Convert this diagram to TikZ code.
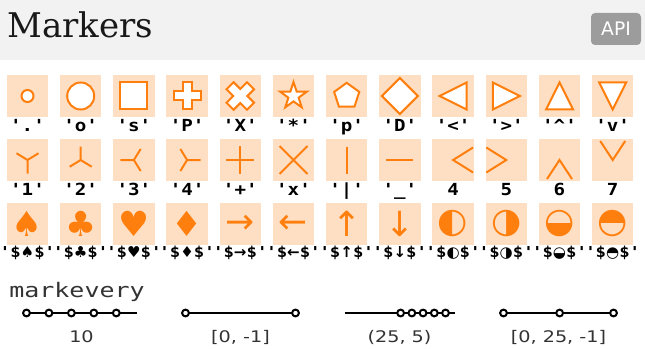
\documentclass[tikz,border=0pt]{standalone}
\usepackage{fontspec}
\usepackage{xcolor}
\usepackage{tikz}
\usetikzlibrary{calc}

\newfontfamily\titlefont{DejaVu Serif}
\newfontfamily\labfont[FakeStretch=1.15]{DejaVu Sans Mono}
\newfontfamily\symf{DejaVu Sans}
\newfontfamily\valfont[FakeStretch=1.2]{DejaVu Sans}
\newfontfamily\evfont[FakeStretch=1.25]{DejaVu Sans Mono}

\definecolor{mkorange}{HTML}{FF7F0E}
\definecolor{mkpeach}{HTML}{FFDFC3}
\definecolor{hdrgray}{HTML}{F2F2F2}
\definecolor{badgegray}{HTML}{9C9C9C}
\definecolor{txtgray}{HTML}{333333}

\begin{document}
\begin{tikzpicture}[
    x=0.75pt, y=-0.75pt,
    mbg/.style={rectangle, fill=mkpeach, minimum size=31.1pt, inner sep=0pt},
    mk/.style={draw=mkorange, line width=1.5pt, fill=white},
    mkl/.style={draw=mkorange, line width=1.5pt},
    lab/.style={font=\labfont\bfseries\fontsize{12.5pt}{14pt}\selectfont, text height=9pt, text depth=2.5pt, inner sep=0pt},
    lab3/.style={lab, font=\labfont\bfseries\fontsize{11.3pt}{13pt}\selectfont},
    gl/.style={text=mkorange, font=\symf\fontsize{26pt}{28pt}\selectfont, inner sep=0pt},
    api/.style={fill=badgegray, rounded corners=3pt, text=white, font=\symf\fontsize{14pt}{15pt}\selectfont, minimum width=37.5pt, minimum height=24pt, inner sep=0pt},
    evline/.style={line width=1.5pt, black},
    evdot/.style={draw=black, line width=1.5pt, fill=white},
    evlab/.style={text=txtgray, font=\valfont\fontsize{12pt}{13pt}\selectfont}
]
\useasboundingbox (0,0) rectangle (645,349);
\fill[white] (0,0) rectangle (645,349);

% Header
\fill[hdrgray] (0,0) rectangle (645,60);
\node[anchor=base west, text=black!90, font=\titlefont\fontsize{25.5pt}{27pt}\selectfont, inner sep=0pt] (title) at (7,38) {Markers};
\node[api] (api) at (616,29) {API};

% Background squares
\foreach \r/\y in {0/96,1/160,2/224}
  \foreach \c in {0,...,11}
    \node[mbg] (b\r-\c) at ({27.5+53.2*\c},\y) {};

% Labels under the squares
\foreach \c/\t in {0/{'.'},1/{'o'},2/{'s'},3/{'P'},4/{'X'},5/{'*'},6/{'p'},7/{'D'},8/{'<'},9/{'>'},10/{'\char"5E'},11/{'v'}}
  \node[lab] (l0-\c) at ($(b0-\c)+(0,31)$) {\t};
\foreach \c/\t in {0/{'1'},1/{'2'},2/{'3'},3/{'4'},4/{'+'},5/{'x'},6/{'|'},7/{'\_'},8/4,9/5,10/6,11/7}
  \node[lab] (l1-\c) at ($(b1-\c)+(0,31)$) {\t};
\foreach \c/\g in {0/♠,1/♣,2/♥,3/♦,4/→,5/←,6/↑,7/↓,8/◐,9/◑,10/◒,11/◓}
  \node[lab3] (l2-\c) at ($(b2-\c)+(0,29.5)$) {'\$\mbox{\symf\bfseries\g}\$'};

% Row 1: filled markers
\draw[mk] (b0-0) circle[radius=6];
\draw[mk] (b0-1) circle[radius=13.5];
\draw[mk] ($(b0-2)+(-13.5,-13.5)$) rectangle ++(27,27);
\draw[mk] (b0-3) ++(-4.5,-13.5) -- ++(9,0) -- ++(0,9) -- ++(9,0) -- ++(0,9) -- ++(-9,0)
  -- ++(0,9) -- ++(-9,0) -- ++(0,-9) -- ++(-9,0) -- ++(0,-9) -- ++(9,0) -- cycle;
\draw[mk, shift={(b0-4)}, rotate=45] (-5,-14.5) -- (5,-14.5) -- (5,-5) -- (14.5,-5) -- (14.5,5) -- (5,5)
  -- (5,14.5) -- (-5,14.5) -- (-5,5) -- (-14.5,5) -- (-14.5,-5) -- (-5,-5) -- cycle;
\draw[mk, shift={(b0-5)}] (-90:14) \foreach \k in {0,...,4} {-- (-54+72*\k:5.4) -- (-18+72*\k:14)} -- cycle;
\draw[mk, shift={(b0-6)}] (-90:13.2) -- (-18:13.2) -- (54:13.2) -- (126:13.2) -- (198:13.2) -- cycle;
\draw[mk, shift={(b0-7)}] (0,-18) -- (18,0) -- (0,18) -- (-18,0) -- cycle;
\draw[mk, shift={(b0-8)}] (-13.5,0) -- (13.5,-13.5) -- (13.5,13.5) -- cycle;
\draw[mk, shift={(b0-9)}] (13.5,0) -- (-13.5,-13.5) -- (-13.5,13.5) -- cycle;
\draw[mk, shift={(b0-10)}] (0,-13.5) -- (13.5,13.5) -- (-13.5,13.5) -- cycle;
\draw[mk, shift={(b0-11)}] (0,13.5) -- (13.5,-13.5) -- (-13.5,-13.5) -- cycle;

% Row 2: line markers
\draw[mkl, shift={(b1-0)}] (0,0) -- (0,13.5) (0,0) -- (-11,-6.75) (0,0) -- (11,-6.75);
\draw[mkl, shift={(b1-1)}] (0,0) -- (0,-13.5) (0,0) -- (-11,6.75) (0,0) -- (11,6.75);
\draw[mkl, shift={(b1-2)}] (0,0) -- (-13.5,0) (0,0) -- (6.75,-11) (0,0) -- (6.75,11);
\draw[mkl, shift={(b1-3)}] (0,0) -- (13.5,0) (0,0) -- (-6.75,-11) (0,0) -- (-6.75,11);
\draw[mkl, shift={(b1-4)}] (-14,0) -- (14,0) (0,-14) -- (0,14);
\draw[mkl, shift={(b1-5)}] (-14,-14) -- (14,14) (-14,14) -- (14,-14);
\draw[mkl, shift={(b1-6)}] (0,-13.5) -- (0,13.5);
\draw[mkl, shift={(b1-7)}] (-13.5,0) -- (13.5,0);
\draw[mkl, shift={(b1-8)}] (20,-12.5) -- (0,0) -- (20,12.5);
\draw[mkl, shift={(b1-9)}] (-20,-12.5) -- (0,0) -- (-20,12.5);
\draw[mkl, shift={(b1-10)}] (-12.5,19) -- (0,0) -- (12.5,19);
\draw[mkl, shift={(b1-11)}] (-12.5,-19) -- (0,0) -- (12.5,-19);

% Row 3: glyph markers
\foreach \c/\g in {0/♠,1/♣,2/♥,3/♦,4/→,5/←,6/↑,7/↓,8/◐,9/◑,10/◒,11/◓}
  \node[gl] (g\c) at (b2-\c) {\g};

% markevery
\node[anchor=base west, text=txtgray, font=\evfont\fontsize{15pt}{16pt}\selectfont, inner sep=0pt] (mev) at (9,297) {markevery};

\coordinate (s1) at (26.5,313);  \coordinate (e1) at (136.5,313);
\coordinate (s2) at (185.5,313); \coordinate (e2) at (295.5,313);
\coordinate (s3) at (344.5,313); \coordinate (e3) at (454.5,313);
\coordinate (s4) at (503.5,313); \coordinate (e4) at (613.5,313);

\draw[evline] (s1) -- (e1);
\draw[evline] (s2) -- (e2);
\draw[evline] (s3) -- (e3);
\draw[evline] (s4) -- (e4);

\foreach \k in {0,10,20,30,40}
  \draw[evdot] ($(s1)!\k/49!(e1)$) circle[radius=3.4];
\foreach \k in {0,49}
  \draw[evdot] ($(s2)!\k/49!(e2)$) circle[radius=3.4];
\foreach \k in {25,30,35,40,45}
  \draw[evdot] ($(s3)!\k/49!(e3)$) circle[radius=3.4];
\foreach \k in {0,25,49}
  \draw[evdot] ($(s4)!\k/49!(e4)$) circle[radius=3.4];

\node[evlab] (v1) at ($(s1)!0.5!(e1)+(0,24)$) {10};
\node[evlab] (v2) at ($(s2)!0.5!(e2)+(0,24)$) {[0, -1]};
\node[evlab] (v3) at ($(s3)!0.5!(e3)+(0,24)$) {(25, 5)};
\node[evlab] (v4) at ($(s4)!0.5!(e4)+(0,24)$) {[0, 25, -1]};

\end{tikzpicture}
\end{document}
